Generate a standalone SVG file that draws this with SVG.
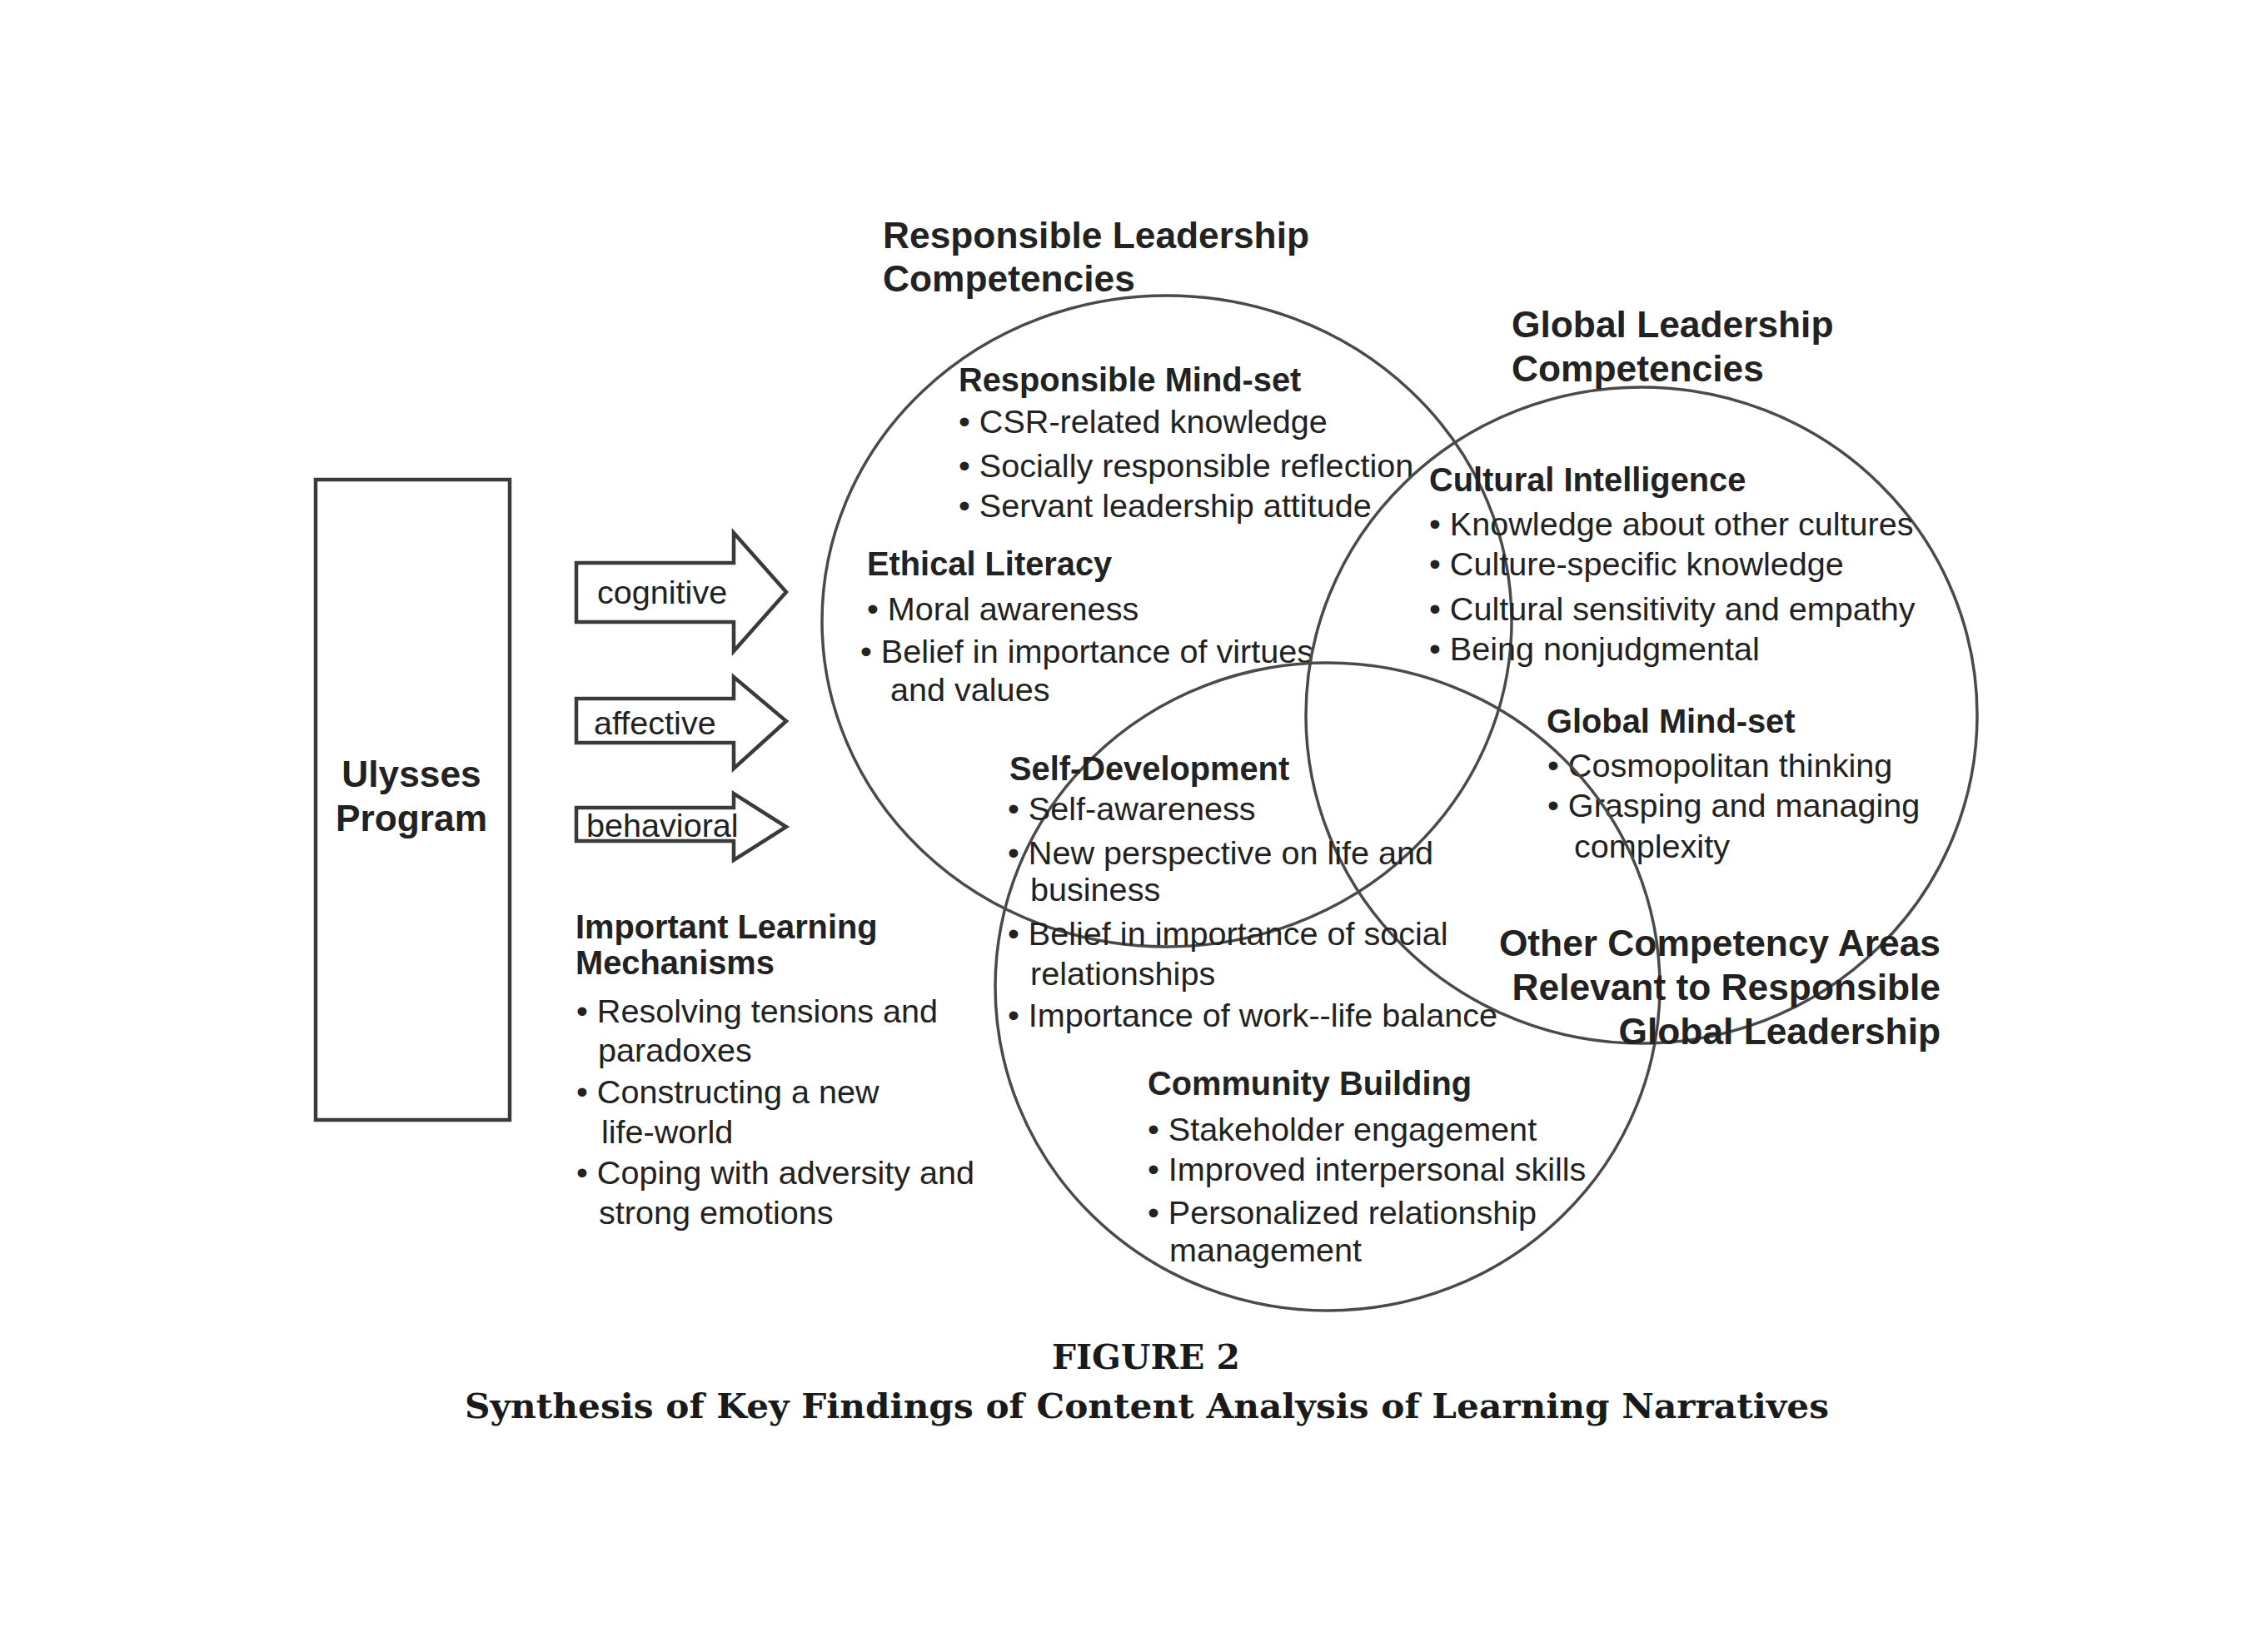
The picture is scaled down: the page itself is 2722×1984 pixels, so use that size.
<svg xmlns="http://www.w3.org/2000/svg" width="2722" height="1984" viewBox="0 0 2722 1984">
<style>
.t{font-family:"Liberation Sans",Arial,sans-serif;fill:#222}
.r{font-size:39.6px}
.b{font-size:39.8px;font-weight:bold}
.h{font-size:44.3px;font-weight:bold}
.cap{font-family:"DejaVu Serif","Liberation Serif",serif;font-weight:bold;fill:#1a1a1a}
.circ{fill:none;stroke:#4a4a4a;stroke-width:3.5}
.box{fill:#fff;stroke:#3a3a3a;stroke-width:4.5}
.arr{fill:#fff;stroke:#3a3a3a;stroke-width:4.5;stroke-linejoin:miter}
</style>
<rect width="2722" height="1984" fill="#fff"/>

<g id="ulysses">
<rect class="box" x="379" y="576" width="233" height="769"/>
<text class="t h" x="494" y="945" text-anchor="middle">Ulysses</text>
<text class="t h" x="494" y="998" text-anchor="middle">Program</text>
</g>

<g id="connectors">
<g id="arrow-cognitive">
<polygon class="arr" points="692,676 881,676 881,640 944,711 881,782 881,747 692,747"/>
<text class="t r" x="717" y="725">cognitive</text>
</g>
<g id="arrow-affective">
<polygon class="arr" points="692,839 881,839 881,813 944,866 881,923 881,892 692,892"/>
<text class="t r" x="713" y="882">affective</text>
</g>
<g id="arrow-behavioral">
<polygon class="arr" points="692,970 881,970 881,953 944,993 881,1033 881,1010 692,1010"/>
<text class="t r" x="704" y="1005">behavioral</text>
</g>
</g>

<g id="learning-mechanisms">
<text class="t b" x="691" y="1127">Important Learning</text>
<text class="t b" x="691" y="1170">Mechanisms</text>
<text class="t r" x="692" y="1228">• Resolving tensions and</text>
<text class="t r" x="718" y="1275">paradoxes</text>
<text class="t r" x="692" y="1325">• Constructing a new</text>
<text class="t r" x="722" y="1373">life-world</text>
<text class="t r" x="692" y="1422">• Coping with adversity and</text>
<text class="t r" x="719" y="1470">strong emotions</text>
</g>

<g id="responsible-circle">
<ellipse class="circ" cx="1401" cy="746" rx="414" ry="391"/>
<text class="t h" x="1060" y="298">Responsible Leadership</text>
<text class="t h" x="1060" y="350">Competencies</text>
<text class="t b" x="1151" y="470">Responsible Mind-set</text>
<text class="t r" x="1151" y="520">• CSR-related knowledge</text>
<text class="t r" x="1151" y="573">• Socially responsible reflection</text>
<text class="t r" x="1151" y="621">• Servant leadership attitude</text>
<text class="t b" x="1041" y="691">Ethical Literacy</text>
<text class="t r" x="1041" y="745">• Moral awareness</text>
<text class="t r" x="1033" y="796">• Belief in importance of virtues</text>
<text class="t r" x="1069" y="842">and values</text>
</g>

<g id="global-circle">
<ellipse class="circ" cx="1971" cy="859" rx="403" ry="394"/>
<text class="t h" x="1815" y="405">Global Leadership</text>
<text class="t h" x="1815" y="458">Competencies</text>
<text class="t b" x="1716" y="590">Cultural Intelligence</text>
<text class="t r" x="1716" y="643">• Knowledge about other cultures</text>
<text class="t r" x="1716" y="691">• Culture-specific knowledge</text>
<text class="t r" x="1716" y="745">• Cultural sensitivity and empathy</text>
<text class="t r" x="1716" y="793">• Being nonjudgmental</text>
<text class="t b" x="1857" y="880">Global Mind-set</text>
<text class="t r" x="1858" y="933">• Cosmopolitan thinking</text>
<text class="t r" x="1858" y="981">• Grasping and managing</text>
<text class="t r" x="1890" y="1030">complexity</text>
</g>

<g id="other-circle">
<ellipse class="circ" cx="1594" cy="1185" rx="399" ry="389"/>
<text class="t b" x="1212" y="937">Self-Development</text>
<text class="t r" x="1210" y="985">• Self-awareness</text>
<text class="t r" x="1210" y="1038">• New perspective on life and</text>
<text class="t r" x="1237" y="1082">business</text>
<text class="t r" x="1210" y="1135">• Belief in importance of social</text>
<text class="t r" x="1237" y="1183">relationships</text>
<text class="t r" x="1210" y="1233">• Importance of work--life balance</text>
<text class="t b" x="1378" y="1315">Community Building</text>
<text class="t r" x="1378" y="1370">• Stakeholder engagement</text>
<text class="t r" x="1378" y="1418">• Improved interpersonal skills</text>
<text class="t r" x="1378" y="1470">• Personalized relationship</text>
<text class="t r" x="1404" y="1515">management</text>
<text class="t h" x="2330" y="1148" text-anchor="end">Other Competency Areas</text>
<text class="t h" x="2330" y="1201" text-anchor="end">Relevant to Responsible</text>
<text class="t h" x="2330" y="1254" text-anchor="end">Global Leadership</text>
</g>

<g id="caption">
<text class="cap" x="1376" y="1644" text-anchor="middle" font-size="41" textLength="226" lengthAdjust="spacingAndGlyphs">FIGURE 2</text>
<text class="cap" x="1377" y="1703" text-anchor="middle" font-size="41" textLength="1638" lengthAdjust="spacingAndGlyphs">Synthesis of Key Findings of Content Analysis of Learning Narratives</text>
</g>
</svg>
